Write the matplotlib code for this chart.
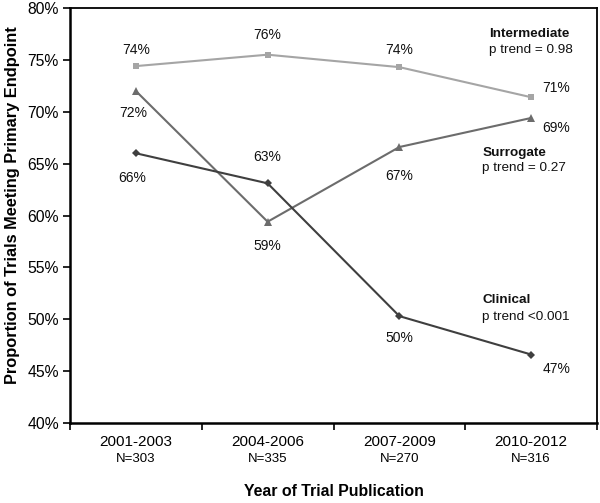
"""Proportion of trials meeting primary endpoint by publication period."""

import matplotlib

matplotlib.use("Agg")

import matplotlib.pyplot as plt
from matplotlib.ticker import FixedLocator, PercentFormatter
from matplotlib.transforms import blended_transform_factory

plt.rcParams["font.family"] = ["Liberation Sans", "DejaVu Sans"]

periods = ["2001-2003", "2004-2006", "2007-2009", "2010-2012"]
sample_sizes = ["N=303", "N=335", "N=270", "N=316"]

intermediate = [74.4, 75.5, 74.3, 71.4]
surrogate = [72.0, 59.4, 66.6, 69.4]
clinical = [66.0, 63.1, 50.3, 46.6]

intermediate_labels = ["74%", "76%", "74%", "71%"]
surrogate_labels = ["72%", "59%", "67%", "69%"]
clinical_labels = ["66%", "63%", "50%", "47%"]

# label offsets in pixels (dx, dy) for each point
intermediate_offsets = [(0, 16), (0, 20), (0, 17), (25, 9)]
surrogate_offsets = [(-3, -22), (0, -24), (0, -29), (25, -10)]
clinical_offsets = [(-4, -25), (0, 26), (0, -22), (25, -14)]

series = (
    (intermediate, intermediate_labels, intermediate_offsets, "#a5a5a5", "s", 5),
    (surrogate, surrogate_labels, surrogate_offsets, "#6c6c6c", "^", 5.5),
    (clinical, clinical_labels, clinical_offsets, "#3f3f3f", "D", 4),
)

fig = plt.figure(figsize=(6.0, 5.03), dpi=100)
ax = fig.add_axes([70 / 600, 1 - 423 / 503, 527 / 600, 415 / 503])

x = list(range(len(periods)))
for values, labels, offsets, color, marker, msize in series:
    ax.plot(x, values, color=color, lw=1.5, marker=marker, ms=msize,
            markeredgewidth=0)
    for xi, val, lab, (dx, dy) in zip(x, values, labels, offsets):
        ax.annotate(lab, (xi, val), xytext=(dx, dy), textcoords="offset pixels",
                    ha="center", va="center", fontsize=10, color="#111111")

notes = (
    ("Intermediate", "p trend = 0.98", 0.795, 0.937, 0.899),
    ("Surrogate", "p trend = 0.27", 0.782, 0.651, 0.614),
    ("Clinical", "p trend <0.001", 0.782, 0.296, 0.255),
)
for name, trend, nx, y1, y2 in notes:
    ax.text(nx, y1, name, transform=ax.transAxes, ha="left", va="center",
            fontsize=9.7, fontweight="bold", color="#111111")
    ax.text(nx, y2, trend, transform=ax.transAxes, ha="left", va="center",
            fontsize=9.7, color="#111111")

ax.set_xlim(-0.5, len(periods) - 0.5)
ax.set_ylim(40, 80)
ax.yaxis.set_major_locator(FixedLocator(range(40, 81, 5)))
ax.yaxis.set_major_formatter(PercentFormatter(decimals=0))
ax.tick_params(axis="y", direction="out", length=5, width=1.2,
               labelsize=11.3, pad=3)

ax.set_xticks(x)
ax.set_xticklabels(periods)
ax.tick_params(axis="x", which="major", length=0, labelsize=11, pad=9)
ax.set_xticks([i - 0.5 for i in range(len(periods) + 1)], minor=True)
ax.tick_params(axis="x", which="minor", direction="out", length=5, width=1.2)

trans = blended_transform_factory(ax.transData, ax.transAxes)
for xi, n in zip(x, sample_sizes):
    ax.text(xi, -0.087, n, transform=trans, ha="center", va="center",
            fontsize=9.5)

for spine in ax.spines.values():
    spine.set_linewidth(1.3)
ax.spines["left"].set_linewidth(1.8)
ax.spines["bottom"].set_linewidth(1.8)

ax.set_ylabel("Proportion of Trials Meeting Primary Endpoint",
              fontsize=11.8, fontweight="bold", va="center", ha="center")
ax.yaxis.set_label_coords(-0.110, 0.525)
ax.set_xlabel("Year of Trial Publication", fontsize=11.4,
              fontweight="bold", va="center", ha="center")
ax.xaxis.set_label_coords(0.5, -0.166)

fig.savefig("out.png", dpi=100)
